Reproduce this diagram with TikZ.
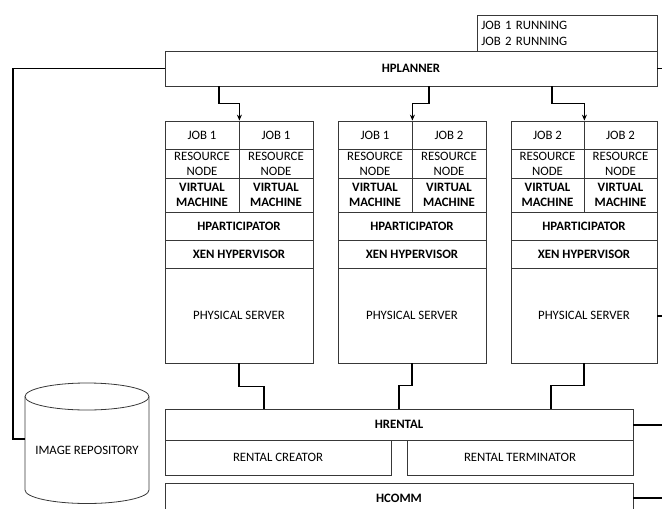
\documentclass[tikz,border=0pt]{standalone}
\usepackage{fontspec}
\setmainfont{Carlito}
\usetikzlibrary{arrows.meta,calc}
\tikzset{
  cell/.style={draw=black!78, line width=0.8pt, inner sep=0pt, align=center,
    font=\fontsize{12.8}{15}\selectfont},
  bcell/.style={cell, font=\fontsize{12.8}{15}\selectfont\bfseries},
  conn/.style={draw=black, line width=1.5pt},
  arr/.style={conn, -{Stealth[length=6pt,width=5pt]}},
}
\newcommand\mkcol[6]{%
  \node[cell, minimum width={#3-#2}, minimum height=28] (#1ja) at ({(#2+#3)/2},135) {#5};
  \node[cell, minimum width={#4-#3}, minimum height=28] (#1jb) at ({(#3+#4)/2},135) {#6};
  \node[cell, minimum width={#3-#2}, minimum height=29] (#1rna) at ({(#2+#3)/2},163.5) {RESOURCE\\NODE};
  \node[cell, minimum width={#4-#3}, minimum height=29] (#1rnb) at ({(#3+#4)/2},163.5) {RESOURCE\\NODE};
  \node[bcell, minimum width={#3-#2}, minimum height=34] (#1vma) at ({(#2+#3)/2},195) {VIRTUAL\\MACHINE};
  \node[bcell, minimum width={#4-#3}, minimum height=34] (#1vmb) at ({(#3+#4)/2},195) {VIRTUAL\\MACHINE};
  \node[bcell, minimum width={#4-#2}, minimum height=28] (#1hp) at ({(#2+#4)/2},226) {HPARTICIPATOR};
  \node[bcell, minimum width={#4-#2}, minimum height=28] (#1xen) at ({(#2+#4)/2},254) {XEN HYPERVISOR};
  \node[cell, minimum width={#4-#2}, minimum height=95] (#1ps) at ({(#2+#4)/2},315.5) {PHYSICAL SERVER};
}
\begin{document}
\begin{tikzpicture}[x=1pt,y=-1pt]
\useasboundingbox (0,0) rectangle (662,509);
% status and planner
\node[cell, anchor=north west, minimum width=180, minimum height=36, text width=172,
  inner xsep=4pt, align=left, font=\fontsize{12.8}{16}\selectfont] (status) at (477,15)
  {JOB 1 RUNNING\\JOB 2 RUNNING};
\node[bcell, minimum width=492, minimum height=35] (hplanner) at (411,68.5) {HPLANNER};
% columns
\mkcol{a}{165}{239}{313}{JOB 1}{JOB 1}
\mkcol{b}{338}{412}{486}{JOB 1}{JOB 2}
\mkcol{c}{511}{584}{657}{JOB 2}{JOB 2}
% rental / comm
\node[bcell, minimum width=468, minimum height=31] (hrental) at (399,424.5) {HRENTAL};
\node[cell, minimum width=226, minimum height=35] (creator) at (278,457.5) {RENTAL CREATOR};
\node[cell, minimum width=226, minimum height=35] (terminator) at (520,457.5) {RENTAL TERMINATOR};
\node[bcell, minimum width=468, minimum height=30] (hcomm) at (399,498) {HCOMM};
% image repository cylinder
\draw[draw=black!78, line width=0.8pt] (25,396.5) -- (25,490) arc[start angle=180, end angle=360, x radius=62pt, y radius=13.5pt] -- (149,396.5);
\draw[draw=black!78, line width=0.8pt] (87,396.5) ellipse [x radius=62pt, y radius=13.5pt];
\node[font=\fontsize{12.8}{15}\selectfont] (repo) at (87,450) {IMAGE REPOSITORY};
\coordinate (repoin) at (25,439);
\coordinate (lx) at (13,0);
% top arrows
\coordinate (t1) at (219,0);
\coordinate (t2) at (429,0);
\coordinate (t3) at (552,0);
\draw[arr] (hplanner.south -| t1) -- ++(0,17) -| (aja.north east);
\draw[arr] (hplanner.south -| t2) -- ++(0,17) -| (bja.north east);
\draw[arr] (hplanner.south -| t3) -- ++(0,17) -| (cja.north east);
% bottom connectors
\coordinate (d1) at (264,0);
\coordinate (d2) at (399,0);
\coordinate (d3) at (551,0);
\draw[conn] (aps.south) -- ++(0,23) -| (hrental.north -| d1);
\draw[conn] (bps.south) -- ++(0,22) -| (hrental.north -| d2);
\draw[conn] (cps.south) -- ++(0,22) -| (hrental.north -| d3);
% left line to repository
\draw[conn] (hplanner.west) -| (lx |- repoin) -- (repoin);
% right edge stubs
\coordinate (r1) at (662,68.5);
\coordinate (r2) at (662,316);
\coordinate (r3) at (662,425);
\coordinate (r4) at (662,498);
\draw[conn] (hplanner.east) -- (r1);
\draw[conn] (cps.east |- r2) -- (r2);
\draw[conn] (hrental.east |- r3) -- (r3);
\draw[conn] (hcomm.east) -- (r4);
\end{tikzpicture}
\end{document}
